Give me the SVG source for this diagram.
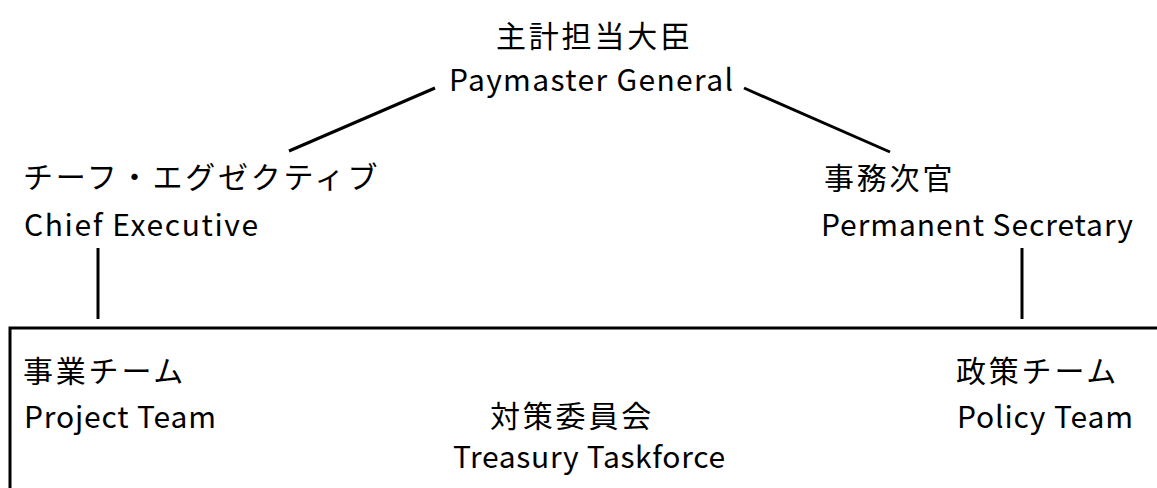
<svg xmlns="http://www.w3.org/2000/svg" width="1157" height="488" viewBox="0 0 1157 488">
<style>
.t{font-family:"Noto Sans CJK JP","Noto Sans",sans-serif;fill:#000}
.j{font-size:30px;letter-spacing:2.8px}
.e{font-size:30px}
.c{stroke:#000;stroke-width:3;fill:none}
</style>
<rect width="1157" height="488" fill="#fff"/>
<g id="connectors">
<line class="c" x1="289" y1="151" x2="435" y2="88"/>
<line class="c" x1="744" y1="88" x2="890" y2="152"/>
<line class="c" x1="98" y1="248" x2="98" y2="319"/>
<line class="c" x1="1022" y1="248" x2="1022" y2="319"/>
</g>
<g id="node-treasury-group">
<path class="c" d="M10,492 V328 H1160"/>
</g>
<g id="node-paymaster">
<text class="t j" x="496" y="47">主計担当大臣</text>
<text class="t e" x="449" y="91" textLength="284">Paymaster General</text>
</g>
<g id="node-chief">
<text class="t j" x="23" y="188">チーフ・エグゼクティブ</text>
<text class="t e" x="24" y="236" textLength="234">Chief Executive</text>
</g>
<g id="node-permsec">
<text class="t j" x="824" y="189">事務次官</text>
<text class="t e" x="821" y="236" textLength="312">Permanent Secretary</text>
</g>
<g id="node-project">
<text class="t j" x="23" y="382">事業チーム</text>
<text class="t e" x="24" y="428" textLength="192">Project Team</text>
</g>
<g id="node-taskforce">
<text class="t j" x="490" y="427">対策委員会</text>
<text class="t e" x="453" y="468" textLength="272">Treasury Taskforce</text>
</g>
<g id="node-policy">
<text class="t j" x="956" y="382">政策チーム</text>
<text class="t e" x="957" y="428" textLength="176">Policy Team</text>
</g>
</svg>
